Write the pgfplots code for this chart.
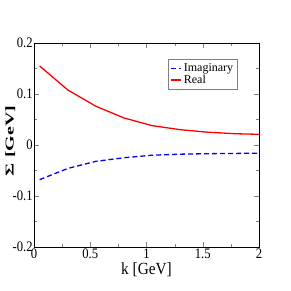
\documentclass[border=0pt]{standalone}
\usepackage{pgfplots}
\pgfplotsset{compat=1.18}
\usepackage{fontspec}
\setmainfont{Liberation Serif}
\begin{document}
\begin{tikzpicture}
\useasboundingbox (0,0) rectangle (291pt,291pt);
\begin{axis}[
  at={(34pt,44pt)}, anchor=south west,
  scale only axis,
  width=225pt, height=204pt,
  xmin=0, xmax=2, ymin=-0.2, ymax=0.2,
  xtick={0,0.5,1,1.5,2},
  xticklabels={0,0.5,1,1.5,2},
  ytick={-0.2,-0.1,0,0.1,0.2},
  yticklabels={-0.2,-0.1,0,0.1,0.2},
  minor x tick num=1, minor y tick num=1,
  tick align=inside,
  tick pos=both,
  major tick length=5pt, minor tick length=3pt,
  tick label style={font=\fontsize{14.5}{14.5}\selectfont, xscale=0.87},
  xticklabel style={yshift=2pt},
  yticklabel style={xshift=2pt},
  xlabel={k [GeV]}, ylabel={\textbf{Σ [GeV]}},
  every axis x label/.style={at={(axis description cs:0.5,-0.11)}, anchor=center, font=\fontsize{17}{17}\selectfont, xscale=0.9},
  every axis y label/.style={at={(axis description cs:-0.105,0.52)}, anchor=center, rotate=90, font=\fontsize{20}{20}\selectfont, yscale=0.6},
  legend style={at={(0.596,0.92)}, anchor=north west, font=\fontsize{12}{12.5}\selectfont, draw=gray, row sep=-2pt, inner sep=2pt},
  legend image post style={xscale=0.6},
  legend cell align=left,
]
\addplot[blue, line width=1.3pt, dash pattern=on 5pt off 3pt] coordinates {
(0.05,-0.068) (0.3,-0.046) (0.55,-0.032) (0.8,-0.025) (1.05,-0.020) (1.3,-0.018) (1.55,-0.017) (1.8,-0.0165) (2.0,-0.016)};
\addlegendentry{Imaginary}
\addplot[red, line width=1.3pt] coordinates {
(0.05,0.155) (0.3,0.108) (0.55,0.076) (0.8,0.053) (1.05,0.038) (1.3,0.030) (1.55,0.025) (1.8,0.022) (2.0,0.021)};
\addlegendentry{Real}
\end{axis}
\end{tikzpicture}
\end{document}
